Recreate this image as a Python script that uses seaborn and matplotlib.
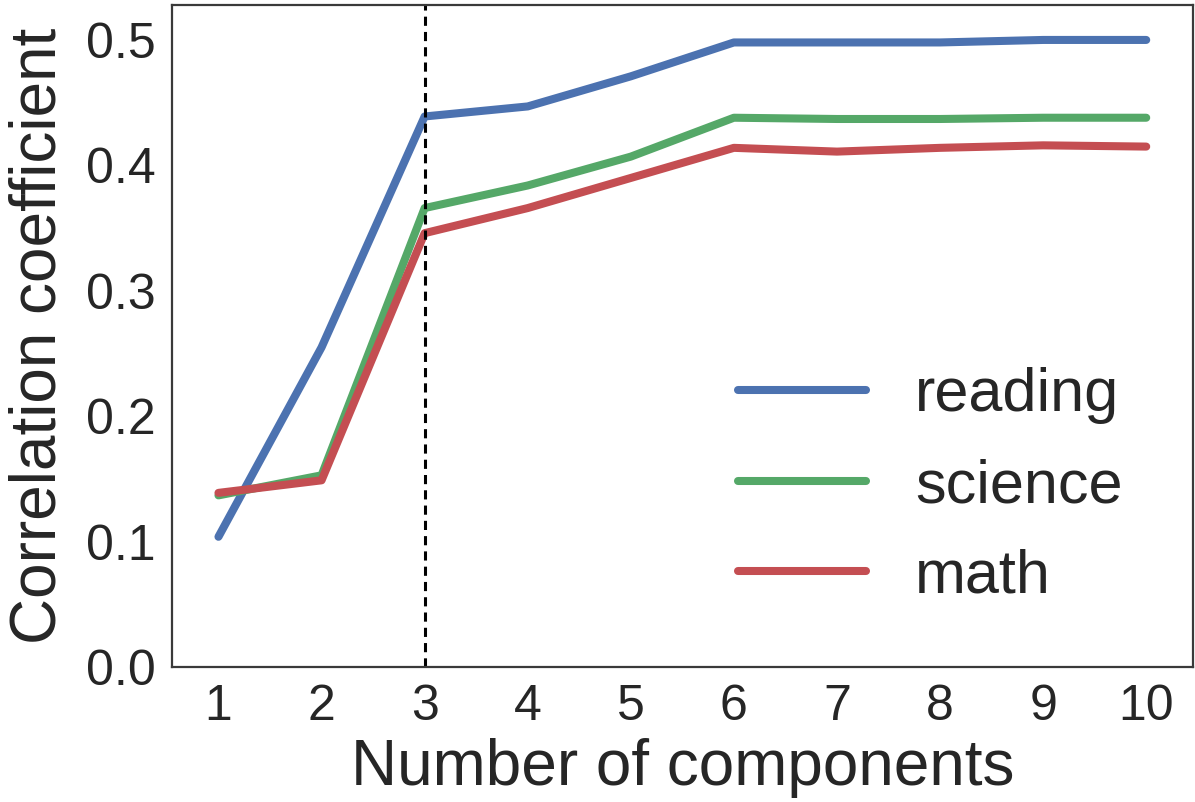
import matplotlib
matplotlib.use("Agg")
import matplotlib.pyplot as plt
import seaborn as sns
import pandas as pd

components = [1, 2, 3, 4, 5, 6, 7, 8, 9, 10]
reading = [0.104, 0.255, 0.439, 0.447, 0.471, 0.498, 0.498, 0.498, 0.500, 0.500]
science = [0.137, 0.153, 0.366, 0.384, 0.407, 0.438, 0.437, 0.437, 0.438, 0.438]
math_ = [0.139, 0.149, 0.346, 0.366, 0.390, 0.414, 0.411, 0.414, 0.416, 0.415]
subjects = ["reading", "science", "math"]
colors = ["#4C72B0", "#55A868", "#C44E52"]
chosen = 3

df = pd.DataFrame({
    "components": components * 3,
    "corr": reading + science + math_,
    "subject": [s for s in subjects for _ in components],
})

sns.set_style("white")
plt.rcParams["font.family"] = ["Liberation Sans", "DejaVu Sans"]

fig = plt.figure(figsize=(11.95, 8.02), dpi=100)
ax = fig.add_axes([0.144, 0.168, 0.854, 0.826])

sns.lineplot(data=df, x="components", y="corr", hue="subject",
             hue_order=subjects, palette=colors, linewidth=5.8, ax=ax)
ax.axvline(chosen, color="black", linestyle="--", linewidth=2.2, dashes=(3, 2))

ax.set_xlim(0.55, 10.45)
ax.set_ylim(0, 0.528)
ax.set_xticks(components)
ax.set_yticks([0.0, 0.1, 0.2, 0.3, 0.4, 0.5])
ax.tick_params(labelsize=36, length=0, pad=12, colors="#262626")
ax.set_xlabel("Number of components", fontsize=46, color="#262626", labelpad=6)
ax.set_ylabel("Correlation coefficient", fontsize=46, color="#262626", labelpad=12)
for s in ax.spines.values():
    s.set_color("#3a3a3a")
    s.set_linewidth(1.6)

leg = ax.legend(frameon=False, fontsize=44, loc="lower right",
                bbox_to_anchor=(0.985, 0.01), handlelength=2.1,
                handletextpad=0.8, labelspacing=0.55)
for h in leg.get_lines():
    h.set_linewidth(5.8)

fig.savefig("out.png", dpi=100)
